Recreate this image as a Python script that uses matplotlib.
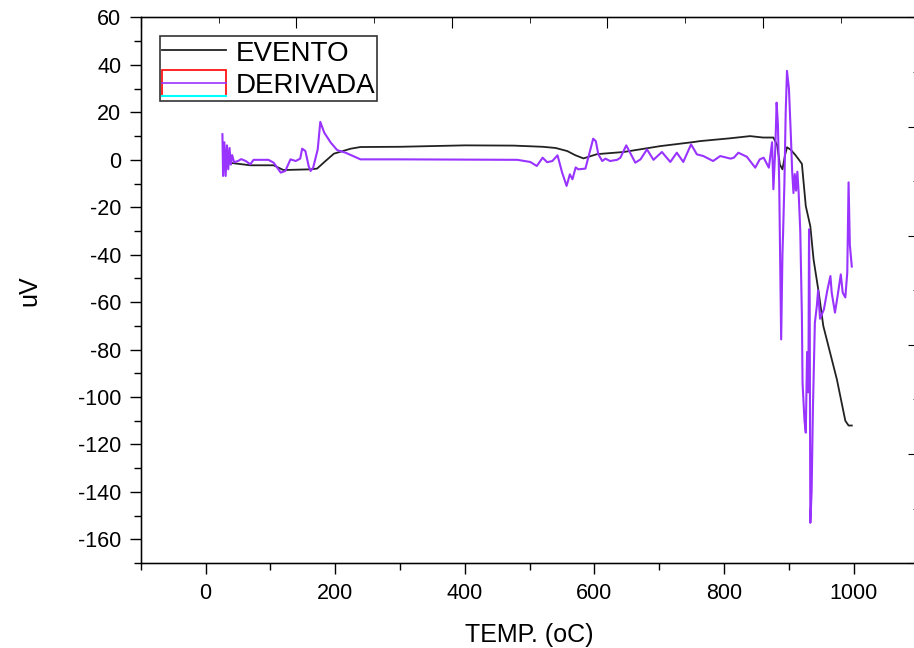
import numpy as np
import matplotlib
matplotlib.use('Agg')
import matplotlib.pyplot as plt
from matplotlib.legend_handler import HandlerBase
from matplotlib.lines import Line2D
from matplotlib.patches import Rectangle
from matplotlib.ticker import MultipleLocator

plt.rcParams['font.family'] = ['Liberation Sans', 'DejaVu Sans']
plt.rcParams['axes.unicode_minus'] = False

# EVENTO (black curve)
evento_t = [28, 45, 69, 105, 120, 162, 172, 185, 198, 224, 239, 300, 400, 475,
            520, 540, 558, 570, 583, 604, 645, 702, 753, 763, 810, 840, 860,
            876, 882, 886, 890, 894, 897, 903, 910, 915, 920, 926, 933, 938,
            946, 953, 974, 987, 992, 997]
evento_v = [-0.9, -1.5, -2.3, -2.3, -4.3, -4.0, -3.7, -0.5, 2.6, 4.7, 5.4, 5.5,
            6.1, 6.0, 5.5, 5.0, 3.7, 2.0, 0.6, 2.4, 3.3, 5.8, 7.5, 7.9, 9.1,
            10.0, 9.4, 9.4, 6.0, -2.0, -4.0, 2.0, 5.3, 4.2, 2.0, 0.2, -1.7,
            -19.5, -28, -42, -56, -70, -92.6, -110, -112, -112]

# DERIVADA (purple curve)
deriv_t = [26, 27, 29, 31, 33, 35, 37, 39, 41, 44, 50, 55, 62, 69, 74, 97, 105,
           116, 123, 131, 139, 146, 149, 154, 159, 162, 166, 173, 177, 183, 193,
           203, 216, 239, 300, 400, 481, 501, 511, 520, 527, 535, 543, 550, 557,
           562, 566, 571, 575, 586, 591, 598, 602, 606, 612, 617, 624, 635, 640,
           649, 655, 663, 671, 681, 691, 704, 717, 727, 737, 749, 758, 768, 783,
           794, 810, 815, 822, 835, 848, 855, 861, 869, 874, 876, 879, 881, 883,
           885, 888, 890, 891, 893, 895, 897, 900, 903, 905, 907, 909, 911, 913,
           915, 917.5, 920, 921, 924, 926, 928, 930, 931, 932, 933, 935, 937,
           940, 943, 945, 948, 951, 954, 959, 964, 966, 971, 975, 980, 983, 987,
           990, 992, 994, 997]
deriv_v = [10.8, -6.8, 7.4, -6.8, 6.1, -4, 5, -2, 2, -1, -0.5, 0.3, -0.5, -1.9,
           0, 0, -1.2, -5.4, -4.7, 0.2, -0.5, 0.5, 4.7, 3.7, -2.6, -4.7, -3.3,
           4.4, 16, 11.5, 7.3, 4.1, 3, 0.2, 0.2, 0.1, 0, -0.9, -2.6, 0.9, -1,
           -0.5, 1.9, -5.3, -11, -6.1, -8.2, -3.2, -4, -3.7, 1.6, 8.9, 7.9, 2.3,
           -0.5, 0.5, -0.5, 0, 0.9, 6.1, 3, -1.2, 0.2, 4.4, 0, 3.3, -0.9, 3,
           -0.9, 6.5, 2.3, 1.6, -0.5, 1.6, 0.5, 0.9, 3, 1.3, -3.3, 0.2, 0.9,
           -3.3, 7.4, -12.4, 5, 24.1, 15, -10, -75.7, -40, -30.6, -10, 20,
           37.5, 30, 10, -5, -14, -6, -13, -5, -14, -30, -66, -94, -110, -115,
           -81, -98, -29.3, -60, -153, -140, -105, -68.7, -61.7, -55, -67, -65,
           -63, -55.3, -49, -56, -64.4, -57.5, -48.3, -56, -58, -47.5, -9.5,
           -36, -45]

purple = '#9933ff'


class DerivHandler(HandlerBase):
    # Origin style legend sample: red box, purple line, cyan base
    def create_artists(self, legend, orig_handle, xdescent, ydescent,
                       width, height, fontsize, trans):
        box = Rectangle((-xdescent, -ydescent), width, height,
                        facecolor='none', edgecolor='red', lw=1.2,
                        transform=trans)
        mid = Line2D([-xdescent, -xdescent + width],
                     [-ydescent + height / 2] * 2, color=purple, lw=1.2,
                     transform=trans)
        base = Line2D([-xdescent, -xdescent + width], [-ydescent] * 2,
                      color='cyan', lw=1.5, transform=trans)
        return [box, mid, base]


fig = plt.figure(figsize=(9.14, 6.48), dpi=100)
ax = fig.add_axes([0.154, 0.131, 0.851, 0.842])

l1, = ax.plot(evento_t, evento_v, color='#222222', lw=1.3, label='EVENTO')
l2, = ax.plot(deriv_t, deriv_v, color=purple, lw=1.5, label='DERIVADA')

ax.set_xlim(-100, 1100)
ax.set_ylim(-170, 60)
ax.xaxis.set_major_locator(MultipleLocator(200))
ax.xaxis.set_minor_locator(MultipleLocator(100))
ax.yaxis.set_major_locator(MultipleLocator(20))
ax.yaxis.set_minor_locator(MultipleLocator(10))
ax.set_xticks([0, 200, 400, 600, 800, 1000])
ax.tick_params(which='major', length=8, width=1, labelsize=15.5, pad=6)
ax.tick_params(which='minor', length=5, width=1)
for s in ax.spines.values():
    s.set_linewidth(1)

# linked top and right axes, ticks only
top = ax.twiny()
top.set_xlim(0, 5)
top.xaxis.set_major_locator(MultipleLocator(1))
top.xaxis.set_minor_locator(MultipleLocator(0.5))
top.tick_params(axis='x', which='both', direction='in', labeltop=False)
top.tick_params(axis='x', which='major', length=8)
top.tick_params(axis='x', which='minor', length=4)
right = ax.twinx()
right.set_ylim(0, 5)
right.yaxis.set_major_locator(MultipleLocator(1))
right.yaxis.set_minor_locator(MultipleLocator(0.5))
right.tick_params(axis='y', which='both', direction='in', labelright=False)
right.tick_params(axis='y', which='major', length=8)
right.tick_params(axis='y', which='minor', length=4)

ax.set_xlabel('TEMP. (oC)', fontsize=18, labelpad=14)
ax.set_ylabel('uV', fontsize=18, labelpad=26)

leg = right.legend([l1, l2], ['EVENTO', 'DERIVADA'], loc='upper left',
                   bbox_to_anchor=(0.025, 0.966), borderaxespad=0,
                   fontsize=20, handlelength=2.3, handleheight=1.1,
                   handletextpad=0.33, borderpad=0.08, labelspacing=0.1,
                   fancybox=False, framealpha=1,
                   handler_map={l2: DerivHandler()})
leg.get_frame().set_edgecolor('#333333')
leg.get_frame().set_linewidth(1.2)

fig.savefig('out.png', dpi=100)
